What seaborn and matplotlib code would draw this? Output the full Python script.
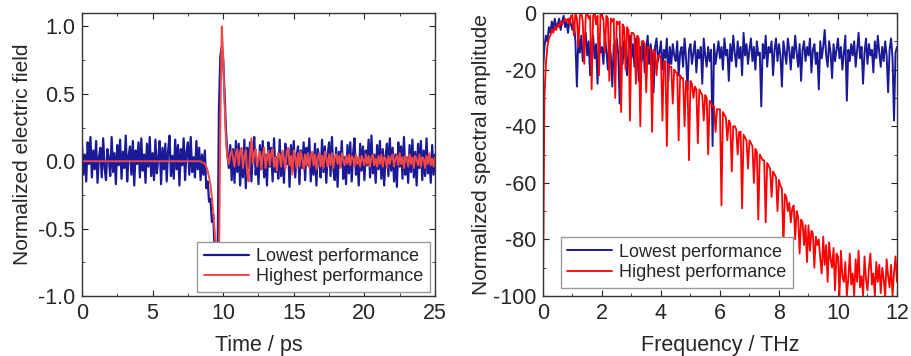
import numpy as np
import pandas as pd
import matplotlib
matplotlib.use("Agg")
import matplotlib.pyplot as plt
from matplotlib.ticker import MultipleLocator
import seaborn as sns

# time-domain traces, sampled every 0.1 ps from 0 to 25 ps
field_lowest = [
    .12, -.10, .05, -.15, .14, -.02, .18, -.12, .08, -.06,
    .15, -.16, .03, .10, -.12, .17, -.05, -.14, .09, .02,
    -.11, .18, -.08, .06, -.17, .12, -.03, .16, -.13, .07,
    -.05, .19, -.15, .04, .11, -.10, .15, -.18, .08, -.02,
    .14, -.12, .17, -.07, .05, -.16, .13, -.04, .18, -.11,
    .06, -.14, .16, -.09, .02, .15, -.17, .10, -.06, .13,
    -.15, .08, .19, -.11, .04, -.13, .16, -.06, .12, -.18,
    .09, -.03, .17, -.14, .07, .14, -.10, .18, -.08, .03,
    -.12, .15, -.06, .10, -.14, .05, -.10, .08, -.20, -.15,
    -.30, -.28, -.45, -.40, -.70, -.85, -.80, .40, .78, .85,
    .75, .50, .22, .05, -.05, .12, -.14, .09, -.16, .15,
    -.08, .13, -.18, .06, -.12, .16, -.20, .10, -.05, .14,
    -.15, .07, .18, -.10, .02, -.17, .12, -.06, .15, -.12,
    .05, -.18, .14, -.04, .10, -.15, .17, -.08, .03, -.13,
    .16, -.11, .06, -.16, .13, -.02, .09, -.19, .12, -.07,
    .15, -.12, .04, .11, -.17, .08, -.05, .14, -.14, .10,
    -.03, .17, -.15, .06, -.10, .13, -.18, .09, .02, -.12,
    .16, -.08, .11, -.16, .05, .14, -.11, .18, -.06, -.14,
    .10, -.19, .07, -.04, .15, -.13, .03, -.17, .12, -.09,
    .14, -.15, .06, .17, -.10, .02, -.18, .13, -.07, .11,
    -.14, .08, -.03, .16, -.12, .19, -.09, .05, -.16, .12,
    -.06, .15, -.13, .09, -.18, .04, .13, -.11, .17, -.07,
    .10, -.15, .05, -.19, .14, -.04, .11, -.13, .18, -.10,
    .03, -.16, .12, -.08, .16, -.12, .07, -.18, .13, -.05,
    .15, -.14, .08, -.11, .17, -.09, .04, -.16, .12, -.10,
    .05,
]
field_highest = [
    0, 0, 0, 0, 0, 0, 0, 0, 0, 0,
    0, 0, 0, 0, 0, 0, 0, 0, 0, 0,
    0, 0, 0, 0, 0, 0, 0, 0, 0, 0,
    0, 0, 0, 0, 0, 0, 0, 0, 0, 0,
    0, 0, 0, 0, 0, 0, 0, 0, 0, 0,
    0, 0, 0, 0, 0, 0, 0, 0, 0, 0,
    0, 0, 0, 0, 0, 0, 0, 0, 0, 0,
    0, 0, 0, 0, 0, 0, 0, 0, 0, 0,
    0, 0, 0, 0, 0, -.01, -.01, -.02, -.04, -.07,
    -.12, -.18, -.27, -.38, -.52, -.68, -.85, -.80, .30, 1.0,
    .78, .42, .15, .02, -.02, .05, .08, .02, -.04, .06,
    .09, -.03, .07, .10, -.05, .04, .08, -.09, -.15, .05,
    .17, -.02, .06, .09, -.04, .03, .07, -.06, .05, .10,
    -.05, .02, .08, -.03, .06, .09, -.04, .03, -.07, .06,
    .05, -.04, .08, .02, -.06, .07, .10, -.03, .04, -.10,
    .08, .03, -.05, .06, -.04, .07, .02, -.06, .05, -.03,
    .06, -.05, .04, .07, -.03, .05, -.06, .03, .06, -.04,
    .04, -.05, .07, .02, -.04, .05, -.03, .06, -.05, .03,
    .05, -.02, .04, -.05, .06, .01, -.03, .04, -.02, .05,
    -.03, .04, .02, -.04, .05, -.02, .03, -.04, .04, .01,
    -.03, .05, -.02, .04, -.04, .03, .05, -.03, .02, -.04,
    .04, -.02, .05, -.04, .03, .02, -.05, .04, -.02, .03,
    .05, -.04, .02, .04, -.03, .06, -.02, .03, -.05, .04,
    .02, -.04, .05, -.02, .03, -.05, .04, .01, -.03, .05,
    -.04, .03, .02, -.05, .04, -.02, .06, -.03, .02, -.04,
    .03,
]

# spectra in dB, sampled every 0.05 THz from 0 to 12 THz
spec_lowest = [
    -20, -12, -8, -10, -5, -7, -3, -6, -2, -5,
    -4, -2, -6, -3, -1, -5, -3, -7, -2, -4,
    -6, -3, -10, -26, -9, -14, -8, -17, -11, -7,
    -15, -10, -22, -12, -8, -16, -11, -25, -9, -14,
    -12, -18, -8, -13, -20, -10, -15, -26, -11, -17,
    -9, -14, -32, -12, -18, -10, -15, -22, -13, -8,
    -16, -11, -19, -9, -14, -24, -12, -17, -10, -21,
    -13, -8, -18, -11, -15, -28, -12, -9, -17, -14,
    -10, -20, -13, -16, -9, -24, -12, -18, -11, -15,
    -17, -10, -22, -14, -12, -19, -9, -16, -27, -13,
    -11, -18, -14, -10, -21, -13, -16, -12, -25, -9,
    -15, -19, -12, -17, -13, -47, -11, -18, -14, -10,
    -16, -12, -20, -9, -15, -13, -24, -11, -17, -8,
    -14, -19, -10, -16, -12, -22, -7, -15, -11, -18,
    -13, -9, -17, -12, -20, -10, -15, -14, -33, -11,
    -16, -8, -19, -12, -14, -10, -22, -13, -9, -17,
    -11, -15, -26, -10, -14, -18, -9, -13, -20, -12,
    -16, -8, -14, -19, -11, -24, -13, -10, -17, -12,
    -15, -9, -21, -13, -11, -18, -14, -27, -10, -16,
    -12, -6, -15, -19, -10, -14, -23, -11, -17, -13,
    -9, -16, -12, -20, -14, -8, -31, -13, -17, -11,
    -15, -10, -19, -13, -7, -16, -12, -25, -14, -9,
    -18, -11, -15, -13, -21, -10, -16, -8, -14, -19,
    -12, -17, -10, -15, -28, -13, -9, -16, -38, -14,
    -12,
]
spec_highest = [
    -100, -30, -18, -12, -9, -8, -6, -7, -5, -6,
    -4, -5, -3, -4, -3, -2, -3, -2, -4, -1,
    -1, -8, 0, -2, -12, -1, 0, -3, -18, -1,
    0, -2, -1, -27, -1, 0, -4, -1, -22, 0,
    -1, -2, -14, -1, -2, -24, -2, -3, -2, -30,
    -3, -4, -3, -35, -4, -5, -20, -5, -6, -38,
    -7, -7, -8, -25, -8, -9, -40, -10, -10, -11,
    -28, -12, -12, -13, -42, -13, -14, -22, -15, -15,
    -16, -38, -17, -17, -47, -18, -19, -19, -32, -20,
    -21, -21, -45, -22, -23, -23, -40, -24, -25, -52,
    -24, -25, -30, -26, -27, -46, -27, -28, -29, -38,
    -29, -30, -50, -31, -32, -33, -33, -42, -34, -34,
    -34, -68, -35, -36, -37, -45, -38, -39, -56, -40,
    -40, -41, -50, -42, -42, -69, -43, -44, -45, -55,
    -45, -46, -47, -60, -48, -49, -73, -50, -51, -52,
    -52, -74, -53, -54, -55, -65, -56, -57, -58, -70,
    -59, -61, -62, -83, -64, -65, -70, -67, -74, -69,
    -68, -80, -70, -72, -85, -73, -74, -82, -75, -88,
    -75, -84, -77, -78, -90, -79, -82, -80, -87, -92,
    -79, -89, -82, -95, -81, -87, -90, -83, -98, -85,
    -86, -100, -84, -93, -95, -88, -100, -94, -85, -96,
    -92, -100, -87, -95, -84, -97, -93, -100, -86, -94,
    -98, -90, -85, -96, -92, -100, -88, -95, -89, -99,
    -90, -94, -100, -87, -93, -97, -89, -100, -92, -86,
    -95,
]
labels = ["Lowest performance", "Highest performance"]

time_ps = np.linspace(0, 25, len(field_lowest))
freq_thz = np.linspace(0, 12, len(spec_lowest))

sns.set_style("ticks")
plt.rcParams["font.family"] = ["Liberation Sans", "DejaVu Sans"]
plt.rcParams["axes.unicode_minus"] = False

blue = "#1a1a96"
fig = plt.figure(figsize=(9.11, 3.56), dpi=100)
ax1 = fig.add_axes([0.090, 0.1685, 0.3875, 0.795])
ax2 = fig.add_axes([0.596, 0.1685, 0.3886, 0.795])

sns.lineplot(x=time_ps, y=field_lowest, ax=ax1, color=blue, lw=1.6, label=labels[0])
sns.lineplot(x=time_ps, y=field_highest, ax=ax1, color="#f04848", lw=1.4, label=labels[1])
sns.lineplot(x=freq_thz, y=spec_lowest, ax=ax2, color=blue, lw=1.4, label=labels[0])
sns.lineplot(x=freq_thz, y=spec_highest, ax=ax2, color="#ff0000", lw=1.3, label=labels[1])

ax1.set_xlim(0, 25)
ax1.set_ylim(-1, 1.1)
ax1.xaxis.set_major_locator(MultipleLocator(5))
ax1.xaxis.set_minor_locator(MultipleLocator(2.5))
ax1.yaxis.set_major_locator(MultipleLocator(0.5))
ax1.yaxis.set_minor_locator(MultipleLocator(0.25))
ax1.set_xlabel("Time / ps", fontsize=15.5, labelpad=8)
ax1.set_ylabel("Normalized electric field", fontsize=15, labelpad=4)

ax2.set_xlim(0, 12)
ax2.set_ylim(-100, 0)
ax2.xaxis.set_major_locator(MultipleLocator(2))
ax2.xaxis.set_minor_locator(MultipleLocator(1))
ax2.yaxis.set_major_locator(MultipleLocator(20))
ax2.yaxis.set_minor_locator(MultipleLocator(10))
ax2.set_xlabel("Frequency / THz", fontsize=15.5, labelpad=8)
ax2.set_ylabel("Normalized spectral amplitude", fontsize=15, labelpad=1)

for ax in (ax1, ax2):
    ax.tick_params(which="both", direction="in", top=True, right=True, labelsize=15.5, pad=5)
    ax.tick_params(which="major", length=4)
    ax.tick_params(which="minor", length=2.5)
    for s in ax.spines.values():
        s.set_color("#333333")
        s.set_linewidth(1.0)

ax1.legend(loc="lower right", bbox_to_anchor=(0.985, 0.015), fontsize=13, frameon=True,
           fancybox=False, framealpha=1, edgecolor="#999999", handlelength=2.5,
           borderpad=0.35, labelspacing=0.2, handletextpad=0.4, borderaxespad=0)
ax2.legend(loc="lower left", bbox_to_anchor=(0.05, 0.03), fontsize=13, frameon=True,
           fancybox=False, framealpha=1, edgecolor="#999999", handlelength=2.5,
           borderpad=0.35, labelspacing=0.2, handletextpad=0.4, borderaxespad=0)

fig.savefig("out.png", dpi=100)
